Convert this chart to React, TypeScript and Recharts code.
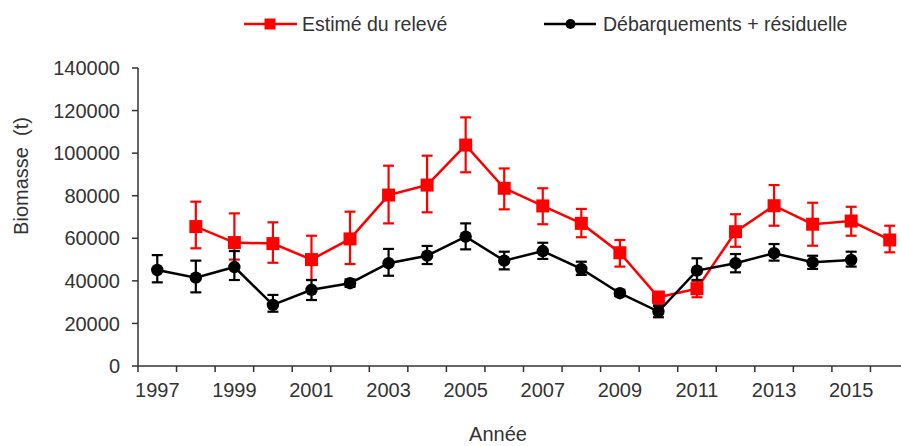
import React from 'react';
import { LineChart, Line, XAxis, YAxis, ErrorBar } from 'recharts';

// Years on the horizontal axis
const YEARS = [1997, 1998, 1999, 2000, 2001, 2002, 2003, 2004, 2005, 2006, 2007, 2008, 2009, 2010, 2011, 2012, 2013, 2014, 2015, 2016];

// Survey estimate (t) with lower / upper bounds
const SURVEY = [null, 65500, 58000, 57500, 50000, 59700, 80300, 85000, 103800, 83500, 75200, 67000, 53200, 32300, 36300, 63100, 75300, 66600, 68100, 59200];
const SURVEY_LOW = [null, 55300, 50000, 48500, 40400, 47900, 67000, 72200, 91000, 73600, 66600, 60500, 46700, 29000, 32300, 56000, 65900, 56500, 61200, 53400];
const SURVEY_HIGH = [null, 77200, 71700, 67500, 61200, 72500, 94100, 98800, 116800, 92800, 83500, 73800, 59200, 34900, 39800, 71300, 85000, 76700, 74800, 65900];

// Landings + residual (t) with lower / upper bounds
const LANDINGS = [45100, 41500, 46500, 28700, 35800, 38900, 48300, 51800, 60800, 49500, 54000, 45600, 34200, 25600, 44800, 48300, 53000, 48700, 49800, null];
const LANDINGS_LOW = [39300, 34600, 40400, 25500, 31000, 37200, 42400, 47900, 54800, 45400, 50300, 42800, 32800, 22900, 40400, 44000, 49500, 45600, 46700, null];
const LANDINGS_HIGH = [52100, 49500, 54000, 33400, 40400, 40700, 55000, 56400, 67000, 53700, 57900, 49000, 35800, 28200, 50600, 52600, 57300, 51800, 53700, null];

const Y_TICKS = [0, 20000, 40000, 60000, 80000, 100000, 120000, 140000];

const SERIES_NAMES = ['Estimé du relevé', 'Débarquements + résiduelle'];
const AXIS_TITLES = { x: 'Année', y: 'Biomasse  (t)' };

const RED = '#ff0000';
const BLACK = '#000000';
const TEXT = '#333333';
const AXIS = '#333333';
const FONT = 'Arial, "Liberation Sans", Helvetica, sans-serif';

const data = YEARS.map((year, i) => ({
  year,
  survey: SURVEY[i],
  surveyErr: SURVEY[i] == null ? null : [SURVEY[i]! - SURVEY_LOW[i]!, SURVEY_HIGH[i]! - SURVEY[i]!],
  landings: LANDINGS[i],
  landingsErr: LANDINGS[i] == null ? null : [LANDINGS[i]! - LANDINGS_LOW[i]!, LANDINGS_HIGH[i]! - LANDINGS[i]!],
}));

// Layout
const CHART_W = 930;
const CHART_H = 446;
const Y_AXIS_W = 138;
const MARGIN = { top: 68, right: 21, bottom: 0, left: 0 };
const X_AXIS_H = 80;
const PLOT_W = CHART_W - MARGIN.left - MARGIN.right - Y_AXIS_W;
const BAND = PLOT_W / YEARS.length;
const TICK_SIZE = 6;
const TICK_MARGIN = 4;

// Tick marks sit between years; every other year carries a label
const YearTick = (props: any) => {
  const { x, y, payload } = props;
  const axisY = y - TICK_SIZE - TICK_MARGIN;
  const year = payload.value as number;
  return (
    <g>
      <line x1={x - BAND / 2} x2={x - BAND / 2} y1={axisY} y2={axisY + TICK_SIZE} stroke={AXIS} strokeWidth={1.5} />
      {year % 2 === 1 && (
        <text x={x} y={axisY + 30.5} textAnchor="middle" fill={TEXT} fontSize={20} fontFamily={FONT}>
          {year}
        </text>
      )}
    </g>
  );
};

const SquareDot = (props: any) => {
  const { cx, cy, index } = props;
  if (cx == null || cy == null || Number.isNaN(cy)) return <g key={`sq-${index}`} />;
  return <rect key={`sq-${index}`} x={cx - 6.5} y={cy - 6.5} width={13} height={13} fill={RED} />;
};

const RoundDot = (props: any) => {
  const { cx, cy, index } = props;
  if (cx == null || cy == null || Number.isNaN(cy)) return <g key={`ci-${index}`} />;
  return <circle key={`ci-${index}`} cx={cx} cy={cy} r={6.2} fill={BLACK} />;
};

const YTitle = () => (
  <text
    transform="translate(28, 176) rotate(-90)"
    textAnchor="middle"
    fill={TEXT}
    fontSize={20}
    fontFamily={FONT}
    style={{ whiteSpace: 'pre' }}
  >
    {AXIS_TITLES.y}
  </text>
);

const XTitle = () => (
  <text x={498} y={441} textAnchor="middle" fill={TEXT} fontSize={20} fontFamily={FONT}>
    {AXIS_TITLES.x}
  </text>
);

const LegendBox = () => (
  <svg width={901} height={50} style={{ position: 'absolute', left: 0, top: 0 }}>
    <line x1={244} x2={297} y1={24} y2={24} stroke={RED} strokeWidth={2.5} />
    <rect x={264.5} y={18.5} width={11} height={11} fill={RED} />
    <text x={302} y={30.5} fill={TEXT} fontSize={19.5} fontFamily={FONT}>
      {SERIES_NAMES[0]}
    </text>
    <line x1={544} x2={596} y1={24} y2={24} stroke={BLACK} strokeWidth={2.5} />
    <circle cx={570.5} cy={24} r={5} fill={BLACK} />
    <text x={603} y={30.5} fill={TEXT} fontSize={19.5} fontFamily={FONT}>
      {SERIES_NAMES[1]}
    </text>
  </svg>
);

export default function App() {
  return (
    <div style={{ position: 'fixed', left: 0, top: 0, width: 901, height: 446, overflow: 'hidden', background: '#fff' }}>
      <LineChart width={CHART_W} height={CHART_H} data={data} margin={MARGIN}>
        <XAxis
          dataKey="year"
          type="number"
          domain={[YEARS[0] - 0.5, YEARS[YEARS.length - 1] + 0.5]}
          ticks={YEARS}
          interval={0}
          height={X_AXIS_H}
          tickLine={false}
          tickSize={TICK_SIZE}
          tickMargin={TICK_MARGIN}
          axisLine={{ stroke: AXIS, strokeWidth: 1.5 }}
          tick={<YearTick />}
          label={<XTitle />}
        />
        <YAxis
          type="number"
          domain={[0, 140000]}
          ticks={Y_TICKS}
          interval={0}
          width={Y_AXIS_W}
          tickSize={TICK_SIZE}
          tickMargin={12}
          tickLine={{ stroke: AXIS, strokeWidth: 1.5 }}
          axisLine={{ stroke: AXIS, strokeWidth: 1.5 }}
          tick={{ fill: TEXT, fontSize: 20, fontFamily: FONT }}
          label={<YTitle />}
        />
        <Line
          dataKey="survey"
          name={SERIES_NAMES[0]}
          stroke={RED}
          strokeWidth={2.5}
          dot={<SquareDot />}
          activeDot={false}
          isAnimationActive={false}
        >
          <ErrorBar dataKey="surveyErr" direction="y" width={5.5} stroke={RED} strokeWidth={2.2} isAnimationActive={false} />
        </Line>
        <Line
          dataKey="landings"
          name={SERIES_NAMES[1]}
          stroke={BLACK}
          strokeWidth={2.5}
          dot={<RoundDot />}
          activeDot={false}
          isAnimationActive={false}
        >
          <ErrorBar dataKey="landingsErr" direction="y" width={5.5} stroke={BLACK} strokeWidth={2.2} isAnimationActive={false} />
        </Line>
      </LineChart>
      <LegendBox />
    </div>
  );
}
